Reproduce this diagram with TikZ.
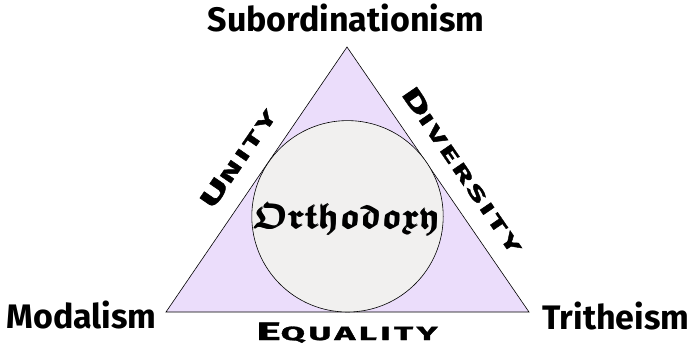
\documentclass[tikz,border=0pt]{standalone}
\usepackage{graphicx}
\usepackage{amsmath}
\usepackage{amssymb}
\usepackage{fontspec}
\newfontfamily\hand{Fira Sans}
\newfontfamily\capsfont{Fira Sans}[LetterSpace=10, BoldFeatures={FakeBold=1.5}]
\definecolor{lav}{HTML}{EBDDFB}
\definecolor{disc}{HTML}{F1F0EF}
\newcommand{\mysmcaps}[3]{\scalebox{#1}[1]{{\fontsize{25}{25}\selectfont #2}{\fontsize{19}{19}\selectfont #3}}}
\tikzset{
  heresy/.style={font=\hand\bfseries\fontsize{34}{36}\selectfont, inner sep=0pt, anchor=base},
  virtue/.style={font=\capsfont\bfseries, inner sep=0pt},
  shape line/.style={draw=black, line width=0.6pt},
}
\begin{document}
\begin{tikzpicture}[x=1pt,y=-1pt]
\useasboundingbox (0,0) rectangle (693,354);
\coordinate (A) at (347,47);
\coordinate (B) at (166,312);
\coordinate (C) at (529,312);
\path[shape line, fill=lav, line join=miter] (A) -- (B) -- (C) -- cycle;
\node[shape line, fill=disc, circle, minimum size=191.4pt, inner sep=0pt] (orth) at (347.5,216.3) {};
\node[inner sep=0pt] (orthtxt) at (347,219) {\fontsize{35}{37}\selectfont$\pmb{\boldsymbol{\mathfrak{Orthodoxy}}}$};
\node[heresy] (sub) at (346,31) {Subordinationism};
\node[heresy] (mod) at (81.5,328) {Modalism};
\node[heresy] (tri) at (616,329) {Tritheism};
\node[virtue, rotate=55.6] (unity) at (238,158) {\mysmcaps{1.85}{U}{NITY}};
\node[virtue, rotate=-55.6] (div) at (463,170) {\mysmcaps{1.85}{D}{IVERSITY}};
\node[virtue, anchor=base] (eq) at (347,340) {\mysmcaps{1.85}{E}{QUALITY}};
\end{tikzpicture}
\end{document}
